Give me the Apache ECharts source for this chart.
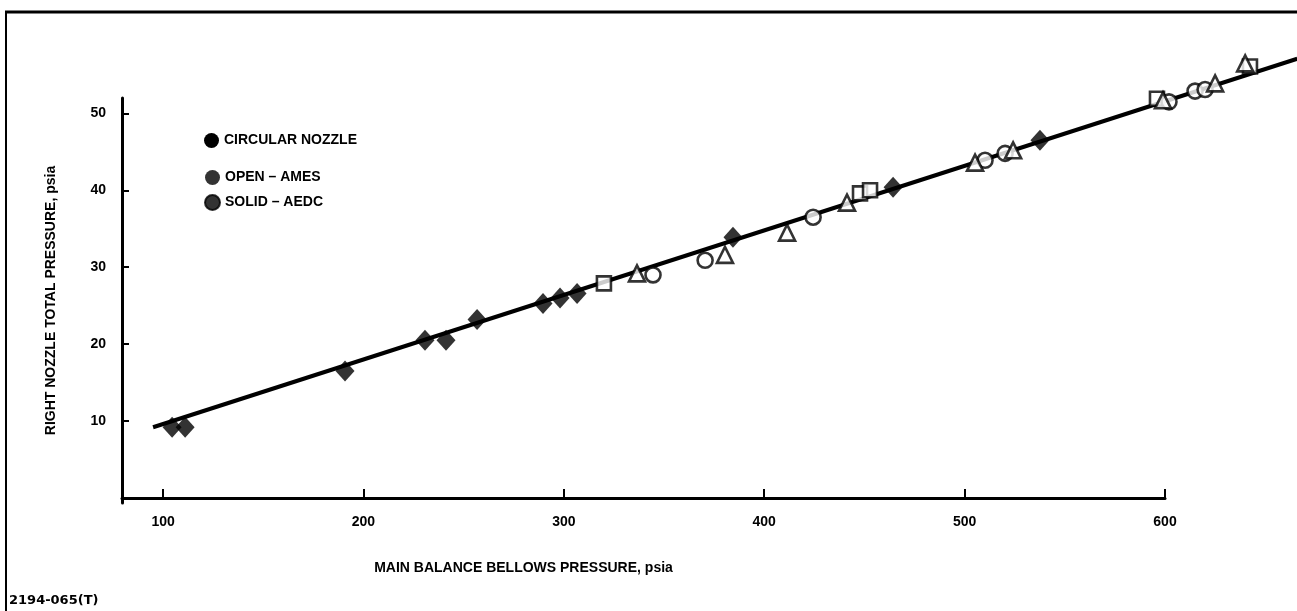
<!DOCTYPE html>
<html>
<head>
<meta charset="utf-8">
<script src="https://cdn.jsdelivr.net/npm/echarts@6/dist/echarts.min.js"></script>
<style>
  html, body { margin: 0; padding: 0; background: #fff; }
  #main { width: 1297px; height: 611px; }
</style>
</head>
<body>
<div id="main"></div>
<script>
// tick labels
var xTicks = [100, 200, 300, 400, 500, 600];
var yTicks = [10, 20, 30, 40, 50];

// faired line through the data (main bellows psia, nozzle total psia)
var fitLine = [[95, 9.2], [666, 57.1]];

// filled diamonds
var diamonds = [
  [104.5, 9.2], [111, 9.2], [190.8, 16.5], [230.7, 20.5], [241.2, 20.5],
  [256.7, 23.2], [289.6, 25.3], [298.1, 26.0], [306.6, 26.6],
  [384.4, 33.9], [464.3, 40.4], [537.6, 46.5]
];
// open squares
var squares = [[320, 27.9], [447.8, 39.6], [452.8, 40.0], [596, 51.9], [642.4, 56.1]];
// open circles
var circles = [[344.5, 29.0], [370.5, 30.9], [424.4, 36.5], [510.2, 43.9], [520.2, 44.8],
  [602, 51.5], [615, 52.9], [620, 53.1]];
// open triangles
var triangles = [[336.5, 29.2], [380.4, 31.6], [411.4, 34.5], [441.3, 38.4], [505.2, 43.6],
  [524.2, 45.2], [599, 51.7], [625, 53.9], [640, 56.5]];

var chart = echarts.init(document.getElementById('main'));
var font = 'Liberation Sans, Arial, sans-serif';

var openStyle = { color: '#fff', borderColor: '#000', borderWidth: 2.6 };

// visible frame: x 79.5..600 over 1043px, y -0.65..52 over 405px
// the data runs past the frame to the page edge, so it sits on a second,
// hidden grid with the same scale that reaches the right and top edges
var xMin = 79.5, xMax = 600, yMin = -0.65, yMax = 52;
var pxX = 1043 / (xMax - xMin);
var pxY = 405 / (yMax - yMin);

option = {
  backgroundColor: '#fff',
  animation: false,
  grid: [
    { left: 122, right: 132, top: 98, bottom: 108 },
    { left: 122, right: 0, top: 0, bottom: 108 }
  ],
  legend: [
    {
      left: 199, top: 128, itemWidth: 15, itemHeight: 15,
      textStyle: { fontFamily: font, fontWeight: 'bold', fontSize: 14, color: '#000' },
      data: [{ name: 'CIRCULAR NOZZLE', icon: 'circle', itemStyle: { color: '#000' } }],
      selectedMode: false
    },
    {
      left: 199, top: 165, orient: 'vertical', itemGap: 9, itemWidth: 15, itemHeight: 15,
      textStyle: { fontFamily: font, fontWeight: 'bold', fontSize: 14, color: '#000' },
      data: [
        { name: 'OPEN \u2013 AMES', icon: 'circle', itemStyle: { color: '#000' } },
        { name: 'SOLID \u2013 AEDC', icon: 'circle', itemStyle: { color: '#000' } }
      ],
      selectedMode: false
    }
  ],
  xAxis: [
    {
      gridIndex: 0, type: 'value', min: xMin, max: xMax,
      name: 'MAIN BALANCE BELLOWS PRESSURE, psia',
      nameLocation: 'middle', nameGap: 58,
      nameTextStyle: { fontFamily: font, fontWeight: 'bold', fontSize: 14, color: '#000', padding: [0, 240, 0, 0] },
      axisLine: { lineStyle: { color: '#000', width: 3 } },
      axisTick: { inside: true, length: 9, lineStyle: { color: '#000', width: 2 }, customValues: xTicks },
      axisLabel: { fontFamily: font, fontWeight: 'bold', fontSize: 14, color: '#000', margin: 12, customValues: xTicks },
      splitLine: { show: false }
    },
    {
      gridIndex: 1, type: 'value', min: xMin, max: xMin + 1175 / pxX, show: false
    }
  ],
  yAxis: [
    {
      gridIndex: 0, type: 'value', min: yMin, max: yMax,
      name: 'RIGHT NOZZLE TOTAL PRESSURE, psia',
      nameLocation: 'middle', nameGap: 64,
      nameTextStyle: { fontFamily: font, fontWeight: 'bold', fontSize: 14, color: '#000' },
      axisLine: { lineStyle: { color: '#000', width: 3 } },
      axisTick: { inside: true, length: 7, lineStyle: { color: '#000', width: 2 }, customValues: yTicks },
      axisLabel: { fontFamily: font, fontWeight: 'bold', fontSize: 14, color: '#000', margin: 16, customValues: yTicks },
      splitLine: { show: false }
    },
    {
      gridIndex: 1, type: 'value', min: yMin, max: yMin + 503 / pxY, show: false
    }
  ],
  series: [
    {
      name: 'CIRCULAR NOZZLE', type: 'line', data: fitLine, xAxisIndex: 1, yAxisIndex: 1,
      showSymbol: false, lineStyle: { color: '#000', width: 4 }, z: 2
    },
    {
      name: 'OPEN \u2013 AMES', type: 'scatter', data: diamonds, xAxisIndex: 1, yAxisIndex: 1,
      symbol: 'diamond', symbolSize: [19, 21], itemStyle: { color: '#000' }, z: 3
    },
    {
      name: 'SOLID \u2013 AEDC', type: 'scatter', data: squares, xAxisIndex: 1, yAxisIndex: 1,
      symbol: 'rect', symbolSize: 14, itemStyle: openStyle, z: 3
    },
    {
      name: 'SOLID \u2013 AEDC', type: 'scatter', data: circles, xAxisIndex: 1, yAxisIndex: 1,
      symbol: 'circle', symbolSize: 15, itemStyle: openStyle, z: 3
    },
    {
      name: 'SOLID \u2013 AEDC', type: 'scatter', data: triangles, xAxisIndex: 1, yAxisIndex: 1,
      symbol: 'triangle', symbolSize: 16, itemStyle: openStyle, z: 3
    }
  ],
  graphic: [
    { type: 'line', shape: { x1: 5, y1: 12, x2: 1297, y2: 12 }, style: { stroke: '#000', lineWidth: 3 } },
    { type: 'line', shape: { x1: 6, y1: 12, x2: 6, y2: 611 }, style: { stroke: '#000', lineWidth: 2 } },
    {
      type: 'text', left: 9, top: 594,
      style: { text: '2194-065(T)', fontFamily: 'DejaVu Sans, sans-serif', fontWeight: 'bold', fontSize: 13, fill: '#000' }
    }
  ]
};

chart.setOption(option);
</script>
</body>
</html>
